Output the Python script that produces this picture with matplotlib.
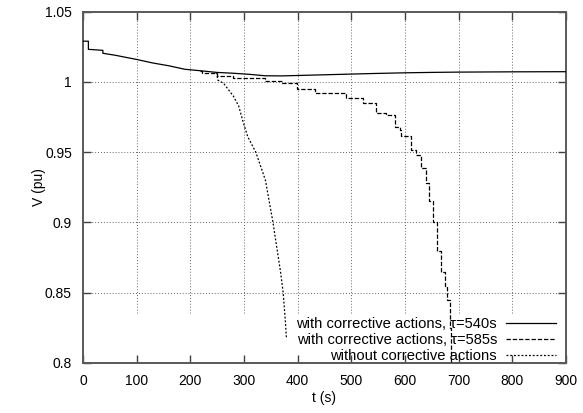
import matplotlib
matplotlib.use('Agg')
import matplotlib.pyplot as plt

# ---------------------------------------------------------------------------
# Data
# ---------------------------------------------------------------------------

# with corrective actions, tau = 540 s (the other runs follow it at first)
t_540 = [0, 10, 10, 37, 37, 60, 100, 130, 160, 190, 218, 249, 280, 311, 339,
         370, 420, 480, 540, 600, 650, 700, 800, 900]
v_540 = [1.0290, 1.0290, 1.0232, 1.0225, 1.0204, 1.0190, 1.0160, 1.0135,
         1.0115, 1.0090, 1.0080, 1.0068, 1.0062, 1.0054, 1.0044, 1.0043,
         1.0048, 1.0054, 1.0060, 1.0065, 1.0068, 1.0070, 1.0072, 1.0073]

# with corrective actions, tau = 585 s (branch after it leaves the 540 s run)
t_585 = [218, 221, 249, 280, 339, 370, 398, 432, 460, 491, 522, 546, 565, 581,
         590, 593, 612, 620, 630, 640, 645, 652, 660, 668, 674, 679, 683, 686]
v_585 = [1.0080, 1.0064, 1.0040, 1.0030, 1.0009, 0.9994, 0.9947, 0.9919,
         0.9923, 0.9888, 0.9848, 0.9776, 0.9764, 0.9680, 0.9658, 0.9615,
         0.9515, 0.9480, 0.9385, 0.9280, 0.9150, 0.9000, 0.8800, 0.8650,
         0.8550, 0.8450, 0.8250, 0.8000]

# without corrective actions (branch)
t_none = [249, 251, 262, 270, 280, 290, 298, 307, 322, 331, 340, 347, 354,
          362, 368, 373, 377, 379]
v_none = [1.0068, 1.0014, 0.9990, 0.9950, 0.9900, 0.9830, 0.9720, 0.9610,
          0.9500, 0.9400, 0.9300, 0.9150, 0.9000, 0.8800, 0.8650, 0.8500,
          0.8300, 0.8180]

X_TICKS = [0, 100, 200, 300, 400, 500, 600, 700, 800, 900]
Y_TICKS = [0.8, 0.85, 0.9, 0.95, 1.0, 1.05]
Y_TICK_LABELS = ["0.8", "0.85", "0.9", "0.95", "1", "1.05"]

LABELS = [
    "with corrective actions, \u03c4=540s",
    "with corrective actions, \u03c4=585s",
    "without corrective actions",
]

plt.rcParams['font.family'] = ['Liberation Sans', 'DejaVu Sans']

# ---------------------------------------------------------------------------
# Plot
# ---------------------------------------------------------------------------

fig = plt.figure(figsize=(5.83, 4.13), dpi=100)
ax = fig.add_axes([0.1424, 0.1211, 0.8284, 0.8506])

# grid (vertical lines stop above the key, like the gnuplot original)
for y in Y_TICKS[1:-1]:
    ax.axhline(y, color='0.4', lw=0.7, ls=(0, (1, 2)), zorder=0)
for x in X_TICKS[1:-1]:
    ax.vlines(x, 0.8355, 1.05, color='0.4', lw=0.7, ls=(0, (1, 2)), zorder=0)

ax.plot(t_none, v_none, color='black', lw=0.9, ls=(0, (1.5, 1.5)),
        label=LABELS[2], zorder=2)
ax.step(t_585, v_585, where='post', color='black', lw=0.9,
        ls=(0, (3.5, 1.5)), label=LABELS[1], zorder=3)
ax.plot(t_540, v_540, color='black', lw=0.9, label=LABELS[0], zorder=4)

ax.set_xlim(0, 900)
ax.set_ylim(0.8, 1.05)
ax.set_xticks(X_TICKS)
ax.set_yticks(Y_TICKS)
ax.set_yticklabels(Y_TICK_LABELS)
ax.tick_params(direction='in', length=6, width=1, top=True, right=True,
               labelsize=10, pad=8, color='0.25')
for s in ax.spines.values():
    s.set_color('0.35')
    s.set_linewidth(1.4)

ax.set_xlabel("t (s)", fontsize=10, labelpad=2)
ax.set_ylabel("V (pu)", fontsize=10, labelpad=-1)

handles, labels = ax.get_legend_handles_labels()
order = [2, 1, 0]
ax.legend([handles[i] for i in order], [labels[i] for i in order],
          loc='lower right', bbox_to_anchor=(0.985, -0.008),
          frameon=False, markerfirst=False,
          fontsize=10.6, handlelength=3.4, handletextpad=0.6,
          labelspacing=0.14, borderaxespad=0.0, borderpad=0.2,
          alignment='right')

fig.savefig("out.png", dpi=100)
